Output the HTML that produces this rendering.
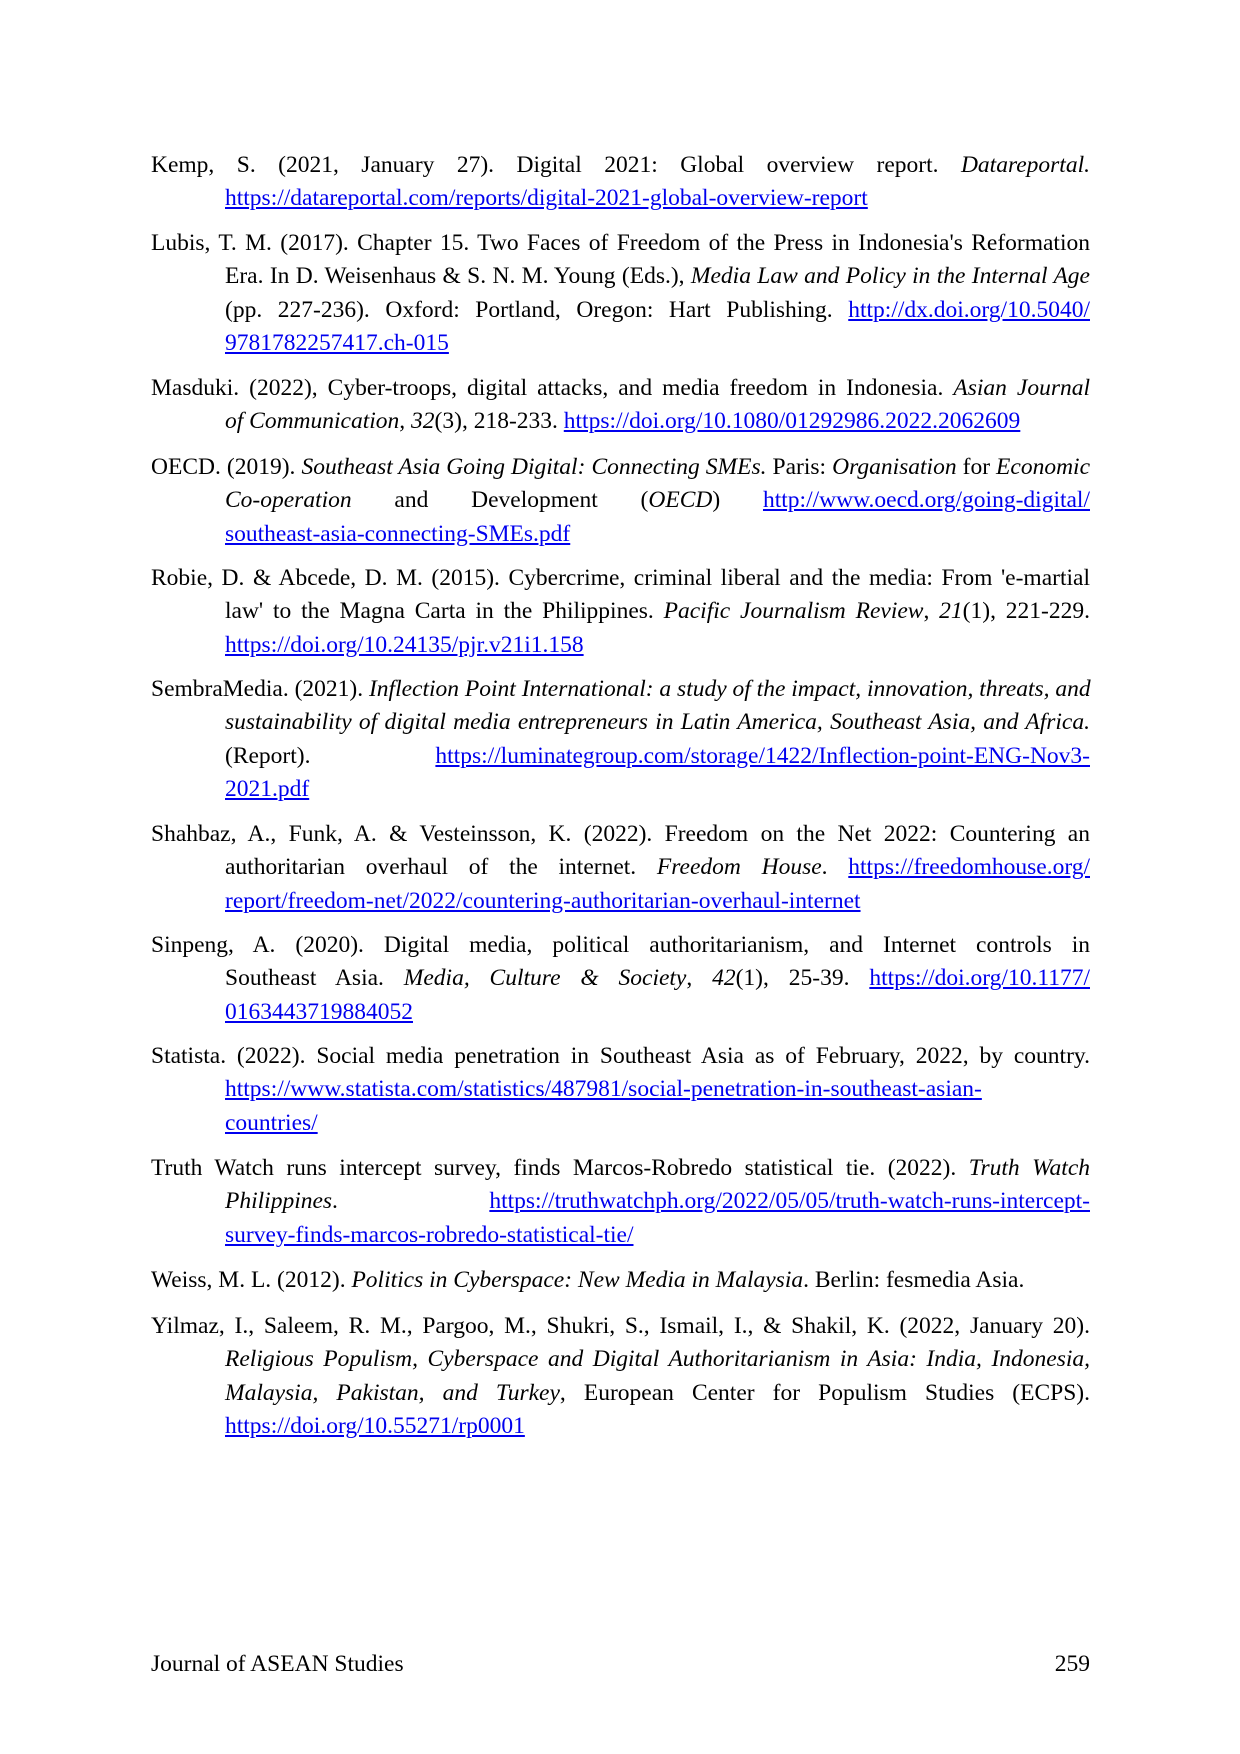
<!DOCTYPE html>
<html><head><meta charset="utf-8"><style>
body{margin:0;width:1240px;height:1754px;background:#fff;position:relative;font-family:"Liberation Serif",serif;color:#000}
.e{position:absolute;left:151px;width:939px;font-size:23.5px;line-height:33.3px}
.e div{text-align:justify;text-align-last:justify;padding-left:74px;white-space:nowrap}
.e div:first-child{padding-left:0}
.e div.l{text-align-last:left}
a{color:#0000ee;text-decoration:underline}
i{font-style:italic}
.f{position:absolute;top:1651px;font-size:23.5px}
</style></head><body>
<div class="e" style="top:149px"><div>Kemp, S. (2021, January 27). Digital 2021: Global overview report. <i>Datareportal.</i></div><div class="l"><a>https://datareportal.com/reports/digital-2021-global-overview-report</a></div></div>
<div class="e" style="top:227px"><div>Lubis, T. M. (2017). Chapter 15. Two Faces of Freedom of the Press in Indonesia's Reformation</div><div>Era. In D. Weisenhaus &amp; S. N. M. Young (Eds.), <i>Media Law and Policy in the Internal Age</i></div><div>(pp. 227-236). Oxford: Portland, Oregon: Hart Publishing. <a>http://dx.doi.org/10.5040/</a></div><div class="l"><a>9781782257417.ch-015</a></div></div>
<div class="e" style="top:372px"><div>Masduki. (2022), Cyber-troops, digital attacks, and media freedom in Indonesia. <i>Asian Journal</i></div><div class="l"><i>of Communication, 32</i>(3), 218-233. <a>https://doi.org/10.1080/01292986.2022.2062609</a></div></div>
<div class="e" style="top:451px"><div>OECD. (2019). <i>Southeast Asia Going Digital: Connecting SMEs.</i> Paris: <i>Organisation</i> for <i>Economic</i></div><div><i>Co-operation</i> and Development (<i>OECD</i>) <a>http://www.oecd.org/going-digital/</a></div><div class="l"><a>southeast-asia-connecting-SMEs.pdf</a></div></div>
<div class="e" style="top:562px"><div>Robie, D. &amp; Abcede, D. M. (2015). Cybercrime, criminal liberal and the media: From 'e-martial</div><div>law' to the Magna Carta in the Philippines. <i>Pacific Journalism Review</i>, <i>21</i>(1), 221-229.</div><div class="l"><a>https://doi.org/10.24135/pjr.v21i1.158</a></div></div>
<div class="e" style="top:673px"><div>SembraMedia. (2021). <i>Inflection Point International: a study of the impact, innovation, threats, and</i></div><div><i>sustainability of digital media entrepreneurs in Latin America, Southeast Asia, and Africa.</i></div><div>(Report). <a>https://luminategroup.com/storage/1422/Inflection-point-ENG-Nov3-</a></div><div class="l"><a>2021.pdf</a></div></div>
<div class="e" style="top:818px"><div>Shahbaz, A., Funk, A. &amp; Vesteinsson, K. (2022). Freedom on the Net 2022: Countering an</div><div>authoritarian overhaul of the internet. <i>Freedom House</i>. <a>https://freedomhouse.org/</a></div><div class="l"><a>report/freedom-net/2022/countering-authoritarian-overhaul-internet</a></div></div>
<div class="e" style="top:929px"><div>Sinpeng, A. (2020). Digital media, political authoritarianism, and Internet controls in</div><div>Southeast Asia. <i>Media, Culture &amp; Society</i>, <i>42</i>(1), 25-39. <a>https://doi.org/10.1177/</a></div><div class="l"><a>0163443719884052</a></div></div>
<div class="e" style="top:1040px"><div>Statista. (2022). Social media penetration in Southeast Asia as of February, 2022, by country.</div><div class="l"><a>https://www.statista.com/statistics/487981/social-penetration-in-southeast-asian-</a></div><div class="l"><a>countries/</a></div></div>
<div class="e" style="top:1152px"><div>Truth Watch runs intercept survey, finds Marcos-Robredo statistical tie. (2022). <i>Truth Watch</i></div><div><i>Philippines</i>. <a>https://truthwatchph.org/2022/05/05/truth-watch-runs-intercept-</a></div><div class="l"><a>survey-finds-marcos-robredo-statistical-tie/</a></div></div>
<div class="e" style="top:1264px"><div class="l">Weiss, M. L. (2012). <i>Politics in Cyberspace: New Media in Malaysia</i>. Berlin: fesmedia Asia.</div></div>
<div class="e" style="top:1310px"><div>Yilmaz, I., Saleem, R. M., Pargoo, M., Shukri, S., Ismail, I., &amp; Shakil, K. (2022, January 20).</div><div><i>Religious Populism, Cyberspace and Digital Authoritarianism in Asia: India, Indonesia,</i></div><div><i>Malaysia, Pakistan, and Turkey</i>, European Center for Populism Studies (ECPS).</div><div class="l"><a>https://doi.org/10.55271/rp0001</a></div></div>
<div class="f" style="left:151px">Journal of ASEAN Studies</div>
<div class="f" style="right:150px">259</div>
</body></html>
